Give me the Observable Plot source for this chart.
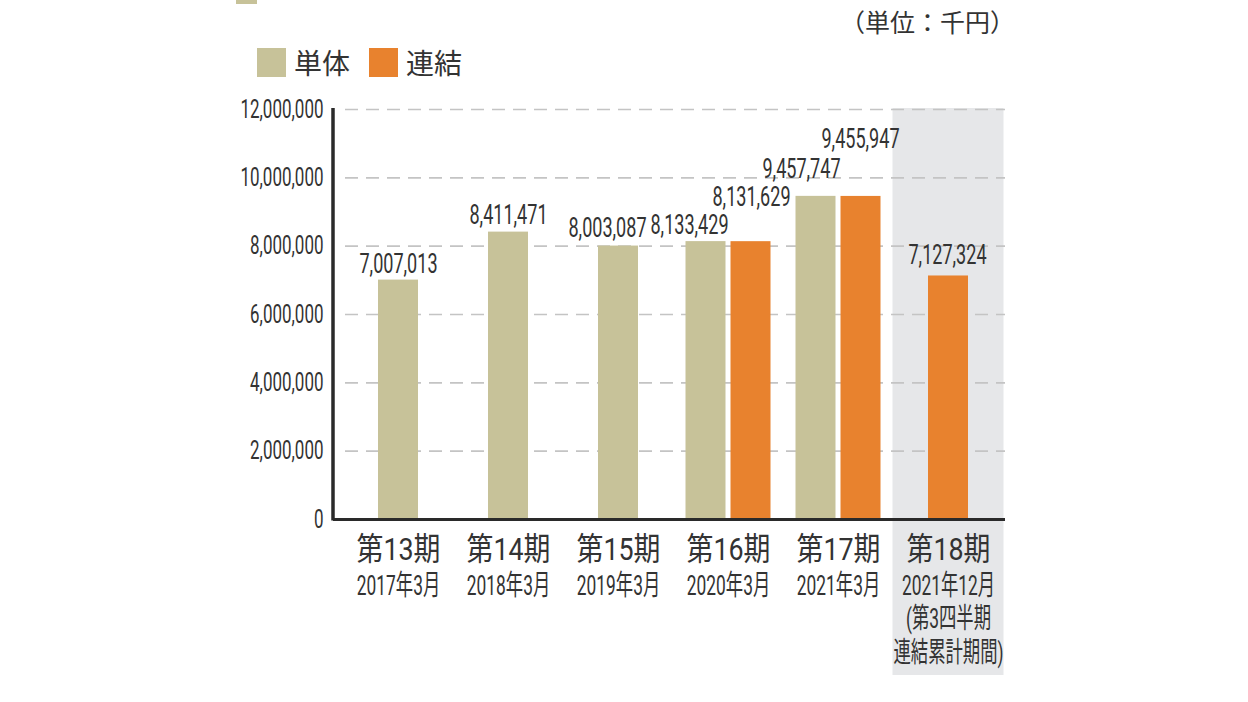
<!DOCTYPE html>
<html><head><meta charset="utf-8">
<script src="https://cdn.jsdelivr.net/npm/d3@7"></script>
<script src="https://cdn.jsdelivr.net/npm/@observablehq/plot@0.6"></script>
<style>
html,body{margin:0;padding:0;background:#fff;}
#wrap{position:relative;width:1248px;height:702px;overflow:hidden;font-family:"Noto Sans CJK JP",sans-serif;color:#333;}
.sw{position:absolute;width:29px;height:29px;}
.lg{position:absolute;font-size:28px;line-height:1;white-space:nowrap;}
#chart{position:absolute;left:0;top:0;}
</style></head><body>
<div id="wrap">
  <div id="chart"></div>
  <div style="position:absolute;left:236px;top:0;width:21px;height:4px;background:#c7c299"></div>
  <div class="sw" style="left:257px;top:48px;background:#c7c299"></div>
  <div class="lg" style="left:294px;top:48px">単体</div>
  <div class="sw" style="left:369px;top:48px;background:#e8822e"></div>
  <div class="lg" style="left:406px;top:48px">連結</div>
  <div class="lg" style="left:840px;top:9px;font-size:25px">（単位：千円）</div>
</div>
<script>
const categories = ["第13期","第14期","第15期","第16期","第17期","第18期"];
const periodDates = ["2017年3月","2018年3月","2019年3月","2020年3月","2021年3月","2021年12月\n(第3四半期\n連結累計期間)"];
const tantai = [7007013, 8411471, 8003087, 8133429, 9457747, null];
const renketsu = [null, null, null, 8131629, 9455947, 7127324];
const yTicks = [0, 2000000, 4000000, 6000000, 8000000, 10000000, 12000000];
const highlighted = ["第18期"];

const TAN = "#c7c299", ORANGE = "#e8822e";
const rows = [];
categories.forEach((c, i) => {
  const pair = tantai[i] != null && renketsu[i] != null;
  if (tantai[i] != null) rows.push({period: c, series: "単体", value: tantai[i], pair});
  if (renketsu[i] != null) rows.push({period: c, series: "連結", value: renketsu[i], pair});
});
const dateRows = categories.map((c, i) => ({period: c, text: periodDates[i]}));
const fmt = d3.format(",");

const valueLabel = (period, series, dx, dy) => Plot.text(
  rows.filter(d => d.period === period && d.series === series),
  {x: "period", y: "value", text: d => fmt(d.value), dx, dy, lineAnchor: "bottom",
   fontSize: 28, fill: "#333", ariaDescription: "value-label"});

const barOpts = (filter, fill, dx) => Plot.barY(rows.filter(filter), {x: "period", y: "value", fill, dx});

const plot = Plot.plot({
  width: 1248, height: 702,
  marginLeft: 333, marginRight: 243, marginTop: 109, marginBottom: 183,
  style: {fontFamily: "Roboto, 'Noto Sans CJK JP', sans-serif", color: "#333", background: "transparent", overflow: "visible"},
  x: {type: "band", domain: categories, paddingInner: 0.64, paddingOuter: 0.32, insetLeft: 7, axis: null},
  y: {domain: [0, 12000000], label: null},
  marks: [
    Plot.barY(highlighted, {x: d => d, y1: 0, y2: 12000000, fill: "#e6e7e9",
      insetLeft: -35.5, insetRight: -35.5, insetTop: -1, insetBottom: -156}),
    Plot.gridY(yTicks.filter(d => d > 0), {stroke: "#c4c4c4", strokeOpacity: 1, strokeWidth: 1.6, strokeDasharray: "13,8", insetLeft: 12}),
    barOpts(d => !d.pair && d.series === "単体", TAN, 0),
    barOpts(d => !d.pair && d.series === "連結", ORANGE, 0),
    barOpts(d => d.pair && d.series === "単体", TAN, -22.5),
    barOpts(d => d.pair && d.series === "連結", ORANGE, 22.5),
    Plot.ruleY([0], {stroke: "#2a2a2a", strokeWidth: 3}),
    (index, scales, values, dim) => {
      const l = document.createElementNS("http://www.w3.org/2000/svg", "line");
      l.setAttribute("x1", dim.marginLeft); l.setAttribute("x2", dim.marginLeft);
      l.setAttribute("y1", dim.marginTop - 1); l.setAttribute("y2", dim.height - dim.marginBottom + 1.5);
      l.setAttribute("stroke", "#2a2a2a"); l.setAttribute("stroke-width", 3.5);
      return l;
    },
    Plot.axisY(yTicks, {tickSize: 0, tickPadding: 10, tickFormat: fmt, fontSize: 25, fill: "#333"}),
    valueLabel("第13期", "単体", 0, -7),
    valueLabel("第14期", "単体", 0, -8),
    valueLabel("第15期", "単体", -11, -9),
    valueLabel("第16期", "単体", -39, -8),
    valueLabel("第16期", "連結", 23, -36),
    valueLabel("第17期", "単体", -37, -18),
    valueLabel("第17期", "連結", 22, -48),
    valueLabel("第18期", "連結", -1, -12),
    Plot.text(categories, {x: d => d, text: d => d, frameAnchor: "bottom", dy: 30, lineAnchor: "middle",
      fontSize: 32, fill: "#333", ariaDescription: "cat-label"}),
    Plot.text(dateRows, {x: "period", text: "text", frameAnchor: "bottom", dy: 52, lineAnchor: "top",
      lineHeight: 1.19, fontSize: 28, fill: "#333", ariaDescription: "date-label"})
  ]
});
document.getElementById("chart").appendChild(plot);

function squeeze(sel, s) {
  plot.querySelectorAll(sel).forEach(t => {
    t.setAttribute("transform", (t.getAttribute("transform") || "") + ` scale(${s},1)`);
  });
}
squeeze('g[aria-label="y-axis tick label"] text', 0.68);
squeeze('g[aria-description="value-label"] text', 0.645);
squeeze('g[aria-description="cat-label"] text', 0.84);
squeeze('g[aria-description="date-label"] text', 0.62);
</script>
</body></html>
